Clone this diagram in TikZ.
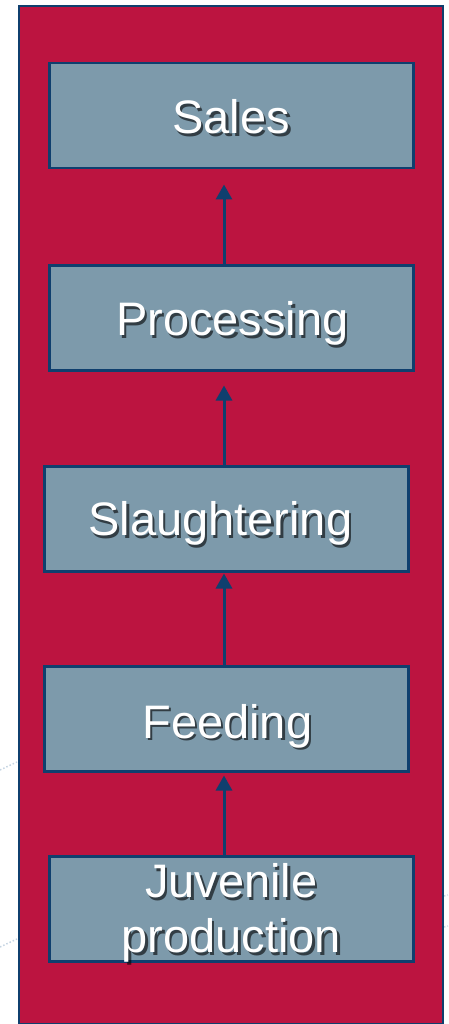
\documentclass[tikz,border=0pt]{standalone}
\usepackage{fontspec}
\setmainfont{Liberation Sans}
\usetikzlibrary{arrows.meta}
\definecolor{panelred}{HTML}{BC1440}
\definecolor{boxfill}{HTML}{7D9AAB}
\definecolor{edgeblue}{HTML}{0F3F6E}
\definecolor{dotblue}{HTML}{C5D4E2}
\tikzset{
  panel/.style={draw=edgeblue, line width=2.2pt, fill=panelred},
  stage/.style={draw=edgeblue, line width=2.5pt, fill=boxfill, minimum width=364pt, minimum height=105pt, inner sep=0pt, anchor=north west},
  lbl/.style={text=white, font=\fontsize{47}{55}\selectfont, inner sep=0pt, align=center, anchor=base},
  lblshadow/.style={lbl, text=black, text opacity=0.6},
  flow/.style={draw=edgeblue, line width=3pt, -{Triangle[length=15pt,width=16pt]}},
  deco/.style={draw=dotblue, line width=1.5pt, dotted},
}
\begin{document}
\begin{tikzpicture}[x=1pt,y=-1pt]
\useasboundingbox (0,0) rectangle (448,1024);
\path[deco] (0,770) -- (17,762);
\path[deco] (0,947) -- (17,939);
\path[deco] (444,896) -- (448,895);
\path[deco] (444,927) -- (448,926);
\node[panel, minimum width=424pt, minimum height=1018pt, inner sep=0pt, anchor=north west] (panel) at (18,5) {};
\node[stage] (sales) at (48,62) {};
\node[stage] (proc) at (48,264) {};
\node[stage] (slau) at (43,465) {};
\node[stage] (feed) at (43,665) {};
\node[stage] (juv) at (48,855) {};
\foreach \n/\t/\dy/\dx in {sales/Sales/18/0, proc/Processing/18/1, slau/Slaughtering/17/-6, feed/Feeding/19.5/1}{
  \node[lblshadow] (\n-s) at ([xshift=\dx pt+2.5pt,yshift=-\dy pt-2.5pt]\n.center) {\t};
  \node[lbl] (\n-t) at ([xshift=\dx pt,yshift=-\dy pt]\n.center) {\t};
}
\node[lblshadow] (juv-s) at ([xshift=2.5pt,yshift=-44pt-2.5pt]juv.center) {Juvenile\\production};
\node[lbl] (juv-t) at ([yshift=-44pt]juv.center) {Juvenile\\production};
\coordinate (ax) at (224,0);
\draw[flow, shorten >=15pt] (proc.north -| ax) -- (sales.south -| ax);
\draw[flow, shorten >=14pt] (slau.north -| ax) -- (proc.south -| ax);
\draw[flow, shorten >=1pt] (feed.north -| ax) -- (slau.south -| ax);
\draw[flow, shorten >=3pt] (juv.north -| ax) -- (feed.south -| ax);
\end{tikzpicture}
\end{document}
